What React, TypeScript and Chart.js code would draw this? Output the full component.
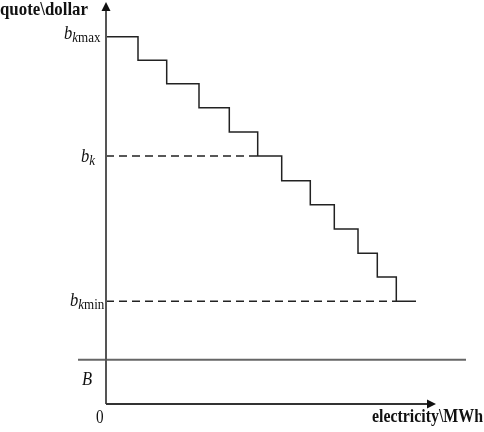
import { useEffect, useRef } from "react";
import { Chart, registerables } from "chart.js";

Chart.register(...registerables);

// Step bid curve: breakpoints (electricity) and price levels (quote)
const stepX = [0, 32, 60.7, 93, 123.3, 151.7, 175.7, 204.3, 228.3, 252, 271.3, 290.3, 310];
const stepY = [367.3, 343.7, 320.3, 296.3, 272, 248, 223.3, 199.3, 175, 150.7, 127, 102.7, 102.7];

const bkMax = 367.3;
const bk = 248;
const bkMin = 102.7;
const bLevel = 44.3;
const bkEndX = 151.7;
const bkMinEndX = 290.3;
const bLineX = [-28, 360];

const xAxisEnd = 330;
const yAxisEnd = 402;

const yTitle = "quote\\dollar";
const xTitle = "electricity\\MWh";

const FONT = '"Liberation Serif", "Times New Roman", serif';

function drawFitted(ctx: CanvasRenderingContext2D, text: string, font: string, x: number, y: number, w: number) {
  ctx.save();
  ctx.font = font;
  const m = ctx.measureText(text).width;
  ctx.translate(x, y);
  ctx.scale(w / m, 1);
  ctx.fillText(text, 0, 0);
  ctx.restore();
}

function drawSub(ctx: CanvasRenderingContext2D, x: number, base: number, subItalic: string, subUpright: string) {
  const sx = 0.87;
  ctx.save();
  ctx.translate(x, 0);
  ctx.scale(sx, 1);
  ctx.font = `italic 19px ${FONT}`;
  ctx.fillText("b", 0, base);
  let cx = ctx.measureText("b").width;
  ctx.font = `italic 15px ${FONT}`;
  ctx.fillText(subItalic, cx, base + 3);
  cx += ctx.measureText(subItalic).width;
  if (subUpright) {
    ctx.font = `15px ${FONT}`;
    ctx.fillText(subUpright, cx, base + 3);
  }
  ctx.restore();
}

const overlay = {
  id: "overlay",
  afterDraw(chart: any) {
    const ctx: CanvasRenderingContext2D = chart.ctx;
    const xs = chart.scales.x;
    const ys = chart.scales.y;
    const x0 = xs.getPixelForValue(0);
    const y0 = ys.getPixelForValue(0);
    const yTop = ys.getPixelForValue(yAxisEnd);
    const xRight = xs.getPixelForValue(xAxisEnd);

    ctx.save();
    // y axis
    ctx.strokeStyle = "#555";
    ctx.lineWidth = 2;
    ctx.beginPath();
    ctx.moveTo(x0, y0);
    ctx.lineTo(x0, yTop + 6);
    ctx.stroke();
    ctx.fillStyle = "#111";
    ctx.beginPath();
    ctx.moveTo(x0, yTop);
    ctx.lineTo(x0 - 4.5, yTop + 9);
    ctx.lineTo(x0 + 4.5, yTop + 9);
    ctx.closePath();
    ctx.fill();
    // x axis
    ctx.strokeStyle = "#333";
    ctx.beginPath();
    ctx.moveTo(x0, y0);
    ctx.lineTo(xRight - 6, y0);
    ctx.stroke();
    ctx.beginPath();
    ctx.moveTo(xRight, y0);
    ctx.lineTo(xRight - 9, y0 - 4.5);
    ctx.lineTo(xRight - 9, y0 + 4.5);
    ctx.closePath();
    ctx.fill();

    // texts
    ctx.fillStyle = "#111";
    ctx.textBaseline = "alphabetic";
    ctx.textAlign = "left";
    drawFitted(ctx, yTitle, `bold 19px ${FONT}`, x0 - 106, yTop + 13, 88);
    drawFitted(ctx, xTitle, `bold 19px ${FONT}`, x0 + 266, y0 + 17.5, 111);

    drawSub(ctx, x0 - 42, ys.getPixelForValue(bkMax) + 2.5, "k", "max");
    drawSub(ctx, x0 - 25, ys.getPixelForValue(bk) + 6, "k", "");
    drawSub(ctx, x0 - 36, ys.getPixelForValue(bkMin) + 4.5, "k", "min");

    ctx.save();
    ctx.translate(x0 - 24, ys.getPixelForValue(bLevel) + 25.5);
    ctx.scale(0.87, 1);
    ctx.font = `italic 19px ${FONT}`;
    ctx.fillText("B", 0, 0);
    ctx.restore();

    ctx.save();
    ctx.translate(x0 - 10, y0 + 18.5);
    ctx.scale(0.8, 1);
    ctx.font = `19px ${FONT}`;
    ctx.fillText("0", 0, 0);
    ctx.restore();

    ctx.restore();
  },
};

export default function App() {
  const ref = useRef<HTMLCanvasElement>(null);

  useEffect(() => {
    if (!ref.current) return;
    const steps = stepX.map((x, i) => ({ x, y: stepY[i] }));
    const chart = new Chart(ref.current, {
      type: "line",
      data: {
        datasets: [
          {
            label: "bk",
            data: [{ x: 0, y: bk }, { x: bkEndX, y: bk }],
            borderColor: "#222",
            borderWidth: 1.5,
            borderDash: [8, 5],
            pointRadius: 0,
          },
          {
            label: "bkmin",
            data: [{ x: 0, y: bkMin }, { x: bkMinEndX, y: bkMin }],
            borderColor: "#222",
            borderWidth: 1.5,
            borderDash: [8, 5],
            pointRadius: 0,
          },
          {
            label: "B",
            data: [{ x: bLineX[0], y: bLevel }, { x: bLineX[1], y: bLevel }],
            borderColor: "#666",
            borderWidth: 2,
            pointRadius: 0,
          },
          {
            label: "steps",
            data: steps,
            stepped: "before",
            borderColor: "#222",
            borderWidth: 1.5,
            pointRadius: 0,
          },
        ],
      },
      options: {
        animation: false,
        responsive: false,
        layout: { padding: { left: 78, right: 14, top: 4, bottom: 28 } },
        plugins: { legend: { display: false }, tooltip: { enabled: false } },
        scales: {
          x: { type: "linear", min: -28, max: 364, display: false },
          y: { type: "linear", min: 0, max: 400, display: false },
        },
      },
      plugins: [overlay],
    } as any);
    return () => chart.destroy();
  }, []);

  return (
    <div style={{ position: "fixed", left: 0, top: 0, width: 484, height: 432, background: "#fff" }}>
      <canvas ref={ref} width={484} height={432} />
    </div>
  );
}
